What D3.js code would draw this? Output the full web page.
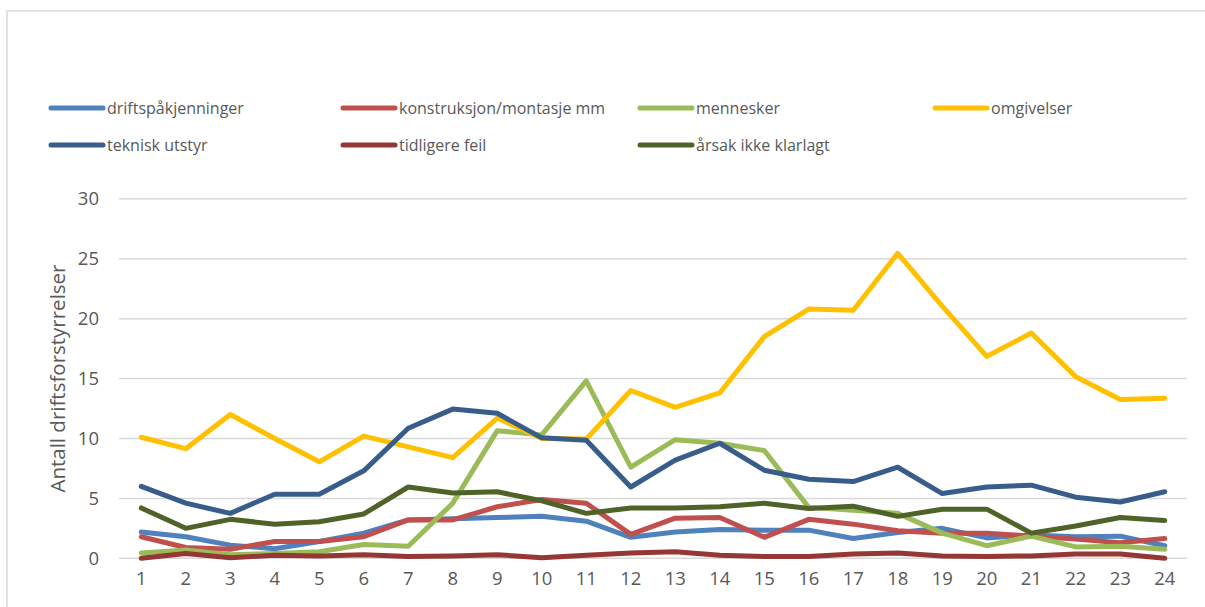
<!DOCTYPE html>
<html>
<head>
<meta charset="utf-8">
<script src="https://cdn.jsdelivr.net/npm/d3@7"></script>
<style>
  html, body { margin: 0; padding: 0; background: #fff; }
  svg { display: block; }
  text { font-family: "Open Sans", "DejaVu Sans", sans-serif; fill: #595959; }
</style>
</head>
<body>
<svg id="chart" width="1205" height="607"></svg>
<script>
const categories = ["1","2","3","4","5","6","7","8","9","10","11","12","13","14","15","16","17","18","19","20","21","22","23","24"];
const yTicks = [0, 5, 10, 15, 20, 25, 30];
const yTitle = "Antall driftsforstyrrelser";

const seriesNames = ["driftspåkjenninger", "konstruksjon/montasje mm", "mennesker", "omgivelser",
                     "teknisk utstyr", "tidligere feil", "årsak ikke klarlagt"];
const seriesColors = ["#4F81BD", "#C0504D", "#9BBB59", "#FFC000", "#385D8A", "#953735", "#4F6228"];

const driftspakjenninger = [2.2, 1.8, 1.1, 0.8, 1.4, 2.1, 3.2, 3.3, 3.4, 3.5, 3.1, 1.75, 2.2, 2.4, 2.35, 2.35, 1.65, 2.15, 2.5, 1.7, 1.95, 1.8, 1.85, 1.05];
const konstruksjon = [1.8, 0.9, 0.75, 1.4, 1.4, 1.8, 3.2, 3.2, 4.3, 4.9, 4.6, 2.0, 3.35, 3.4, 1.75, 3.25, 2.85, 2.3, 2.1, 2.1, 1.85, 1.6, 1.3, 1.65];
const mennesker = [0.45, 0.7, 0.3, 0.4, 0.55, 1.15, 1.0, 4.6, 10.65, 10.3, 14.8, 7.6, 9.9, 9.6, 9.0, 4.25, 4.0, 3.75, 2.1, 1.05, 1.85, 0.95, 1.0, 0.75];
const omgivelser = [10.1, 9.15, 12.0, 10.0, 8.05, 10.2, 9.3, 8.4, 11.7, 10.0, 9.95, 14.0, 12.6, 13.8, 18.5, 20.8, 20.7, 25.45, 21.05, 16.85, 18.8, 15.15, 13.25, 13.35];
const tekniskUtstyr = [6.0, 4.6, 3.75, 5.35, 5.35, 7.3, 10.85, 12.45, 12.1, 10.05, 9.85, 5.95, 8.2, 9.6, 7.35, 6.6, 6.4, 7.6, 5.4, 5.95, 6.1, 5.1, 4.7, 5.55];
const tidligereFeil = [0.0, 0.4, 0.05, 0.25, 0.2, 0.3, 0.15, 0.2, 0.3, 0.05, 0.25, 0.45, 0.55, 0.25, 0.15, 0.15, 0.35, 0.45, 0.2, 0.15, 0.2, 0.35, 0.35, 0.0];
const arsakIkkeKlarlagt = [4.2, 2.5, 3.25, 2.85, 3.05, 3.7, 5.95, 5.45, 5.55, 4.8, 3.75, 4.2, 4.2, 4.3, 4.6, 4.15, 4.35, 3.5, 4.1, 4.1, 2.1, 2.7, 3.4, 3.15];

const seriesValues = [driftspakjenninger, konstruksjon, mennesker, omgivelser, tekniskUtstyr, tidligereFeil, arsakIkkeKlarlagt];

const svg = d3.select("#chart");

// chart border
svg.append("rect").attr("x", 7).attr("y", 11).attr("width", 1210).attr("height", 620)
  .attr("fill", "#fff").attr("stroke", "#D9D9D9").attr("stroke-width", 1.5);

const plotLeft = 119, plotRight = 1187, plotTop = 198.8, plotBottom = 558.3;
const x = d3.scaleBand().domain(categories).range([plotLeft, plotRight]);
const y = d3.scaleLinear().domain([0, 30]).range([plotBottom, plotTop]);

// gridlines
svg.append("g").selectAll("line").data(yTicks).join("line")
  .attr("x1", plotLeft).attr("x2", plotRight)
  .attr("y1", d => y(d)).attr("y2", d => y(d))
  .attr("stroke", "#D9D9D9").attr("stroke-width", 1.5);

// y axis labels
const yAxis = d3.axisLeft(y).tickValues(yTicks).tickSize(0).tickPadding(0);
const yg = svg.append("g").attr("transform", `translate(${plotLeft - 20},0)`).call(yAxis);
yg.select(".domain").remove();
yg.selectAll("text").attr("font-size", 18.5).attr("fill", "#595959")
  .style("font-family", '"Open Sans", sans-serif');

// x axis labels
const xAxis = d3.axisBottom(x).tickSize(0).tickPadding(0);
const xg = svg.append("g").attr("transform", `translate(0,${plotBottom + 14})`).call(xAxis);
xg.select(".domain").remove();
xg.selectAll("text").attr("font-size", 18.5).attr("fill", "#595959")
  .style("font-family", '"Open Sans", sans-serif');

// y title
svg.append("text")
  .attr("transform", `translate(65,${(plotTop + plotBottom) / 2}) rotate(-90)`)
  .attr("text-anchor", "middle")
  .attr("font-size", 20.5)
  .text(yTitle);

// lines
const line = d3.line()
  .x((d, i) => x(categories[i]) + x.bandwidth() / 2)
  .y(d => y(d));

svg.append("g").selectAll("path").data(seriesValues).join("path")
  .attr("d", d => line(d))
  .attr("fill", "none")
  .attr("stroke", (d, i) => seriesColors[i])
  .attr("stroke-width", 5)
  .attr("stroke-linejoin", "round")
  .attr("stroke-linecap", "round");

// legend
const colX = [49, 341, 638, 933];
const rowY = [108, 145];
const lg = svg.append("g");
seriesNames.forEach((name, i) => {
  const cx = colX[i % 4], cy = rowY[Math.floor(i / 4)];
  lg.append("line").attr("x1", cx + 2).attr("x2", cx + 54).attr("y1", cy).attr("y2", cy)
    .attr("stroke", seriesColors[i]).attr("stroke-width", 5).attr("stroke-linecap", "round");
  lg.append("text").attr("x", cx + 58).attr("y", cy).attr("dy", "0.35em")
    .attr("font-size", 16).text(name);
});
</script>
</body>
</html>
